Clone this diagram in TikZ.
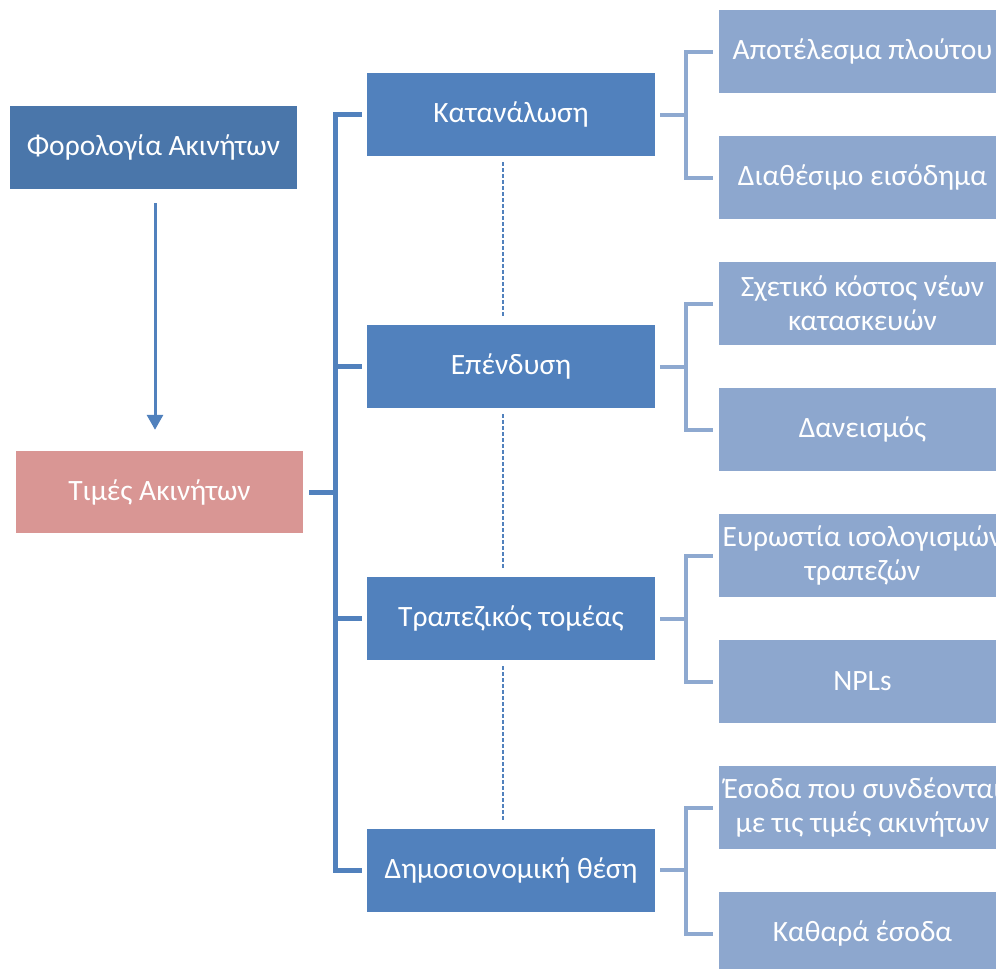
\documentclass[tikz,border=0pt]{standalone}
\usepackage{fontspec}
\setmainfont{Carlito}
\usetikzlibrary{arrows.meta}
\definecolor{taxblue}{HTML}{4A76AA}
\definecolor{midblue}{HTML}{5181BD}
\definecolor{pinkbox}{HTML}{D99694}
\definecolor{lightblue}{HTML}{8DA7CE}
\definecolor{lightline}{HTML}{8EA9D0}
\tikzset{
  box/.style={rectangle, inner sep=0pt, minimum width=287pt, minimum height=83pt,
    text=white, align=center, font=\fontsize{29.5}{34}\selectfont},
  taxbox/.style={box, fill=taxblue},
  pricebox/.style={box, fill=pinkbox, minimum height=82pt},
  midbox/.style={box, fill=midblue, minimum width=288pt},
  rightbox/.style={box, fill=lightblue},
  spine/.style={draw=midblue, line width=5pt},
  rspine/.style={draw=lightline, line width=4pt},
  dashline/.style={draw=midblue, line width=1.3pt, dash pattern=on 4pt off 2pt},
  arrowline/.style={draw=midblue, line width=3pt, -{Triangle[width=16pt,length=15pt]}}
}
\begin{document}
\begin{tikzpicture}[x=1pt,y=-1pt]
\useasboundingbox (0,0) rectangle (996,969);
\clip (0,0) rectangle (996,969);
\node[taxbox] (tax) at (153.5,147.5) {Φορολογία Ακινήτων};
\node[pricebox] (price) at (159.5,492) {Τιμές Ακινήτων};
\node[midbox] (m1) at (511,114.5) {Κατανάλωση};
\node[midbox] (m2) at (511,366.5) {Επένδυση};
\node[midbox] (m3) at (511,618.5) {Τραπεζικός τομέας};
\node[midbox] (m4) at (511,870) {Δημοσιονομική θέση};
\node[rightbox] (r1a) at (862.5,51.5) {Αποτέλεσμα πλούτου};
\node[rightbox] (r1b) at (862.5,177.5) {Διαθέσιμο εισόδημα};
\node[rightbox] (r2a) at (862.5,303.5) {Σχετικό κόστος νέων\\κατασκευών};
\node[rightbox] (r2b) at (862.5,429.5) {Δανεισμός};
\node[rightbox] (r3a) at (862.5,555.5) {Ευρωστία ισολογισμών\\τραπεζών};
\node[rightbox] (r3b) at (862.5,681.5) {NPLs};
\node[rightbox] (r4a) at (862.5,807.5) {Έσοδα που συνδέονται\\με τις τιμές ακινήτων};
\node[rightbox] (r4b) at (862.5,933.5) {Καθαρά έσοδα};
% arrow
\coordinate (a1) at ([xshift=1.5pt]tax.south);
\draw[arrowline, shorten <=14pt, shorten >=21pt] (a1) -- (a1 |- price.north);
% left bracket
\coordinate (sp) at (335,492);
\draw[spine] ([xshift=6pt]price.east) -- (sp);
\draw[spine] ([xshift=-5pt]m1.west) -- (m1.west -| sp) -- (m4.west -| sp) -- ([xshift=-5pt]m4.west);
\draw[spine] (m2.west -| sp) -- ([xshift=-5pt]m2.west);
\draw[spine] (m3.west -| sp) -- ([xshift=-5pt]m3.west);
% dashed connectors
\foreach \a/\b in {m1/m2, m2/m3, m3/m4}{
  \draw[dashline] ([xshift=-8pt,yshift=-6pt]\a.south) -- ([xshift=-8pt,yshift=7pt]\b.north);
}
% right brackets
\foreach \m/\ra/\rb in {m1/r1a/r1b, m2/r2a/r2b, m3/r3a/r3b, m4/r4a/r4b}{
  \coordinate (rs) at ([xshift=31pt]\m.east);
  \draw[rspine] ([xshift=5pt]\m.east) -- (rs);
  \draw[rspine] ([xshift=-6pt]\ra.west) -- (\ra.west -| rs) -- (\rb.west -| rs) -- ([xshift=-6pt]\rb.west);
}
\end{tikzpicture}
\end{document}
